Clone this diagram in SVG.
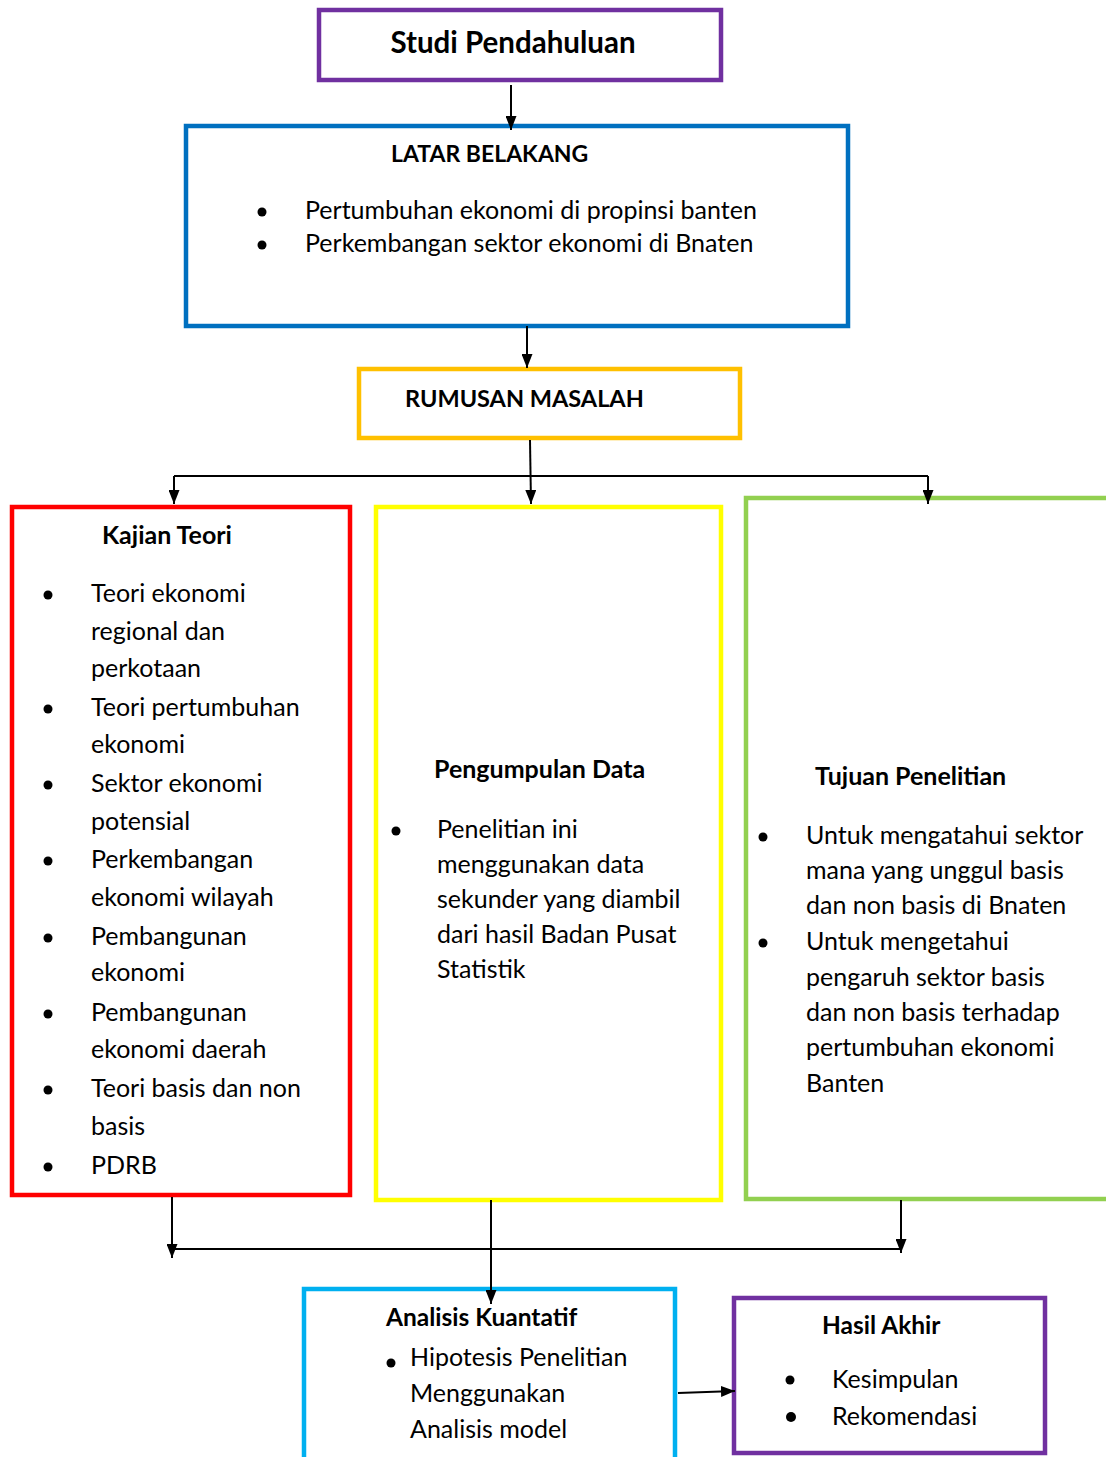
<svg xmlns="http://www.w3.org/2000/svg" width="1106" height="1457" viewBox="0 0 1106 1457">
<defs>
<marker id="ah" markerUnits="userSpaceOnUse" markerWidth="14" markerHeight="11" refX="14" refY="5.5" orient="auto">
<path d="M0,0 L14,5.5 L0,11 z" fill="#000"/>
</marker>
<style>
.box{fill:#fff;stroke-width:4.5}
.t{font-family:Lato,"Open Sans","Liberation Sans",sans-serif;font-size:25px;fill:#000}
.b{font-family:Lato,"Open Sans","Liberation Sans",sans-serif;font-size:25px;font-weight:bold;fill:#000}
.caps{font-size:23px}
.c{stroke:#000;stroke-width:2;fill:none}
.a{stroke:#000;stroke-width:2;fill:none;marker-end:url(#ah)}
.dot{fill:#000}
</style>
</defs>
<rect width="1106" height="1457" fill="#fff"/>

<g id="studi">
<rect class="box" x="319" y="10" width="402" height="70" stroke="#7030A0"/>
<text class="b" x="513" y="53" text-anchor="middle" style="font-size:29.5px">Studi Pendahuluan</text>
</g>

<g id="latar">
<rect class="box" x="186" y="126" width="662" height="200" stroke="#0070C0"/>
<text class="b caps" x="391" y="162">LATAR BELAKANG</text>
<circle class="dot" cx="262" cy="212" r="4.5"/>
<circle class="dot" cx="262" cy="245" r="4.5"/>
<text class="t" x="305" y="219">Pertumbuhan ekonomi di propinsi banten</text>
<text class="t" x="305" y="252">Perkembangan sektor ekonomi di Bnaten</text>
</g>

<g id="rumusan">
<rect class="box" x="359" y="369" width="381" height="69" stroke="#FFC000"/>
<text class="b caps" x="405" y="407" style="font-size:23.5px">RUMUSAN MASALAH</text>
</g>

<g id="kajian">
<rect class="box" x="12" y="507" width="338" height="688" stroke="#FF0000"/>
<text class="b" x="102" y="544">Kajian Teori</text>
<text class="t" x="91" y="602">Teori ekonomi</text>
<text class="t" x="91" y="640">regional dan</text>
<text class="t" x="91" y="677">perkotaan</text>
<text class="t" x="91" y="716">Teori pertumbuhan</text>
<text class="t" x="91" y="753">ekonomi</text>
<text class="t" x="91" y="792">Sektor ekonomi</text>
<text class="t" x="91" y="830">potensial</text>
<text class="t" x="91" y="868">Perkembangan</text>
<text class="t" x="91" y="906">ekonomi wilayah</text>
<text class="t" x="91" y="945">Pembangunan</text>
<text class="t" x="91" y="981">ekonomi</text>
<text class="t" x="91" y="1021">Pembangunan</text>
<text class="t" x="91" y="1058">ekonomi daerah</text>
<text class="t" x="91" y="1097">Teori basis dan non</text>
<text class="t" x="91" y="1135">basis</text>
<text class="t" x="91" y="1174">PDRB</text>
<circle class="dot" cx="48" cy="595" r="4.5"/>
<circle class="dot" cx="48" cy="709" r="4.5"/>
<circle class="dot" cx="48" cy="785" r="4.5"/>
<circle class="dot" cx="48" cy="861" r="4.5"/>
<circle class="dot" cx="48" cy="938" r="4.5"/>
<circle class="dot" cx="48" cy="1014" r="4.5"/>
<circle class="dot" cx="48" cy="1090" r="4.5"/>
<circle class="dot" cx="48" cy="1167" r="4.5"/>
</g>

<g id="pengumpulan">
<rect class="box" x="376" y="507" width="345" height="693" stroke="#FFFF00"/>
<text class="b" x="434" y="778">Pengumpulan Data</text>
<circle class="dot" cx="396" cy="831" r="4.5"/>
<text class="t" x="437" y="838">Penelitian ini</text>
<text class="t" x="437" y="873">menggunakan data</text>
<text class="t" x="437" y="908">sekunder yang diambil</text>
<text class="t" x="437" y="943">dari hasil Badan Pusat</text>
<text class="t" x="437" y="978">Statistik</text>
</g>

<g id="tujuan">
<rect class="box" x="746" y="498" width="400" height="701" stroke="#92D050"/>
<text class="b" x="815" y="785">Tujuan Penelitian</text>
<circle class="dot" cx="763" cy="837" r="4.5"/>
<circle class="dot" cx="763" cy="943" r="4.5"/>
<text class="t" x="806" y="844">Untuk mengatahui sektor</text>
<text class="t" x="806" y="879">mana yang unggul basis</text>
<text class="t" x="806" y="914">dan non basis di Bnaten</text>
<text class="t" x="806" y="950">Untuk mengetahui</text>
<text class="t" x="806" y="986">pengaruh sektor basis</text>
<text class="t" x="806" y="1021">dan non basis terhadap</text>
<text class="t" x="806" y="1056">pertumbuhan ekonomi</text>
<text class="t" x="806" y="1092">Banten</text>
</g>

<g id="analisis">
<rect class="box" x="304" y="1289" width="371" height="190" stroke="#00B0F0"/>
<text class="b" x="386" y="1326" style="font-size:24.5px">Analisis Kuantatif</text>
<circle class="dot" cx="391" cy="1363" r="4.5"/>
<text class="t" x="410" y="1366">Hipotesis Penelitian</text>
<text class="t" x="410" y="1402">Menggunakan</text>
<text class="t" x="410" y="1438">Analisis model</text>
</g>

<g id="hasil">
<rect class="box" x="734" y="1298" width="311" height="155" stroke="#7030A0"/>
<text class="b" x="822" y="1334" style="font-size:24.5px">Hasil Akhir</text>
<circle class="dot" cx="790" cy="1380" r="4.5"/>
<circle class="dot" cx="791" cy="1417" r="5"/>
<text class="t" x="832" y="1388">Kesimpulan</text>
<text class="t" x="832" y="1425">Rekomendasi</text>
</g>

<g id="connectors">
<line class="a" x1="511" y1="85" x2="511" y2="130"/>
<line class="a" x1="527" y1="326" x2="527" y2="368"/>
<line class="a" x1="530" y1="440" x2="531" y2="504"/>
<line class="c" x1="174" y1="476" x2="928" y2="476"/>
<line class="a" x1="174" y1="476" x2="174" y2="504"/>
<line class="a" x1="928" y1="476" x2="928" y2="504"/>
<line class="a" x1="172" y1="1197" x2="172" y2="1258"/>
<line class="c" x1="172" y1="1249" x2="901" y2="1249"/>
<line class="a" x1="901" y1="1200" x2="901" y2="1253"/>
<line class="a" x1="491" y1="1200" x2="491" y2="1304"/>
<line class="a" x1="678" y1="1393" x2="735" y2="1391"/>
</g>
</svg>
